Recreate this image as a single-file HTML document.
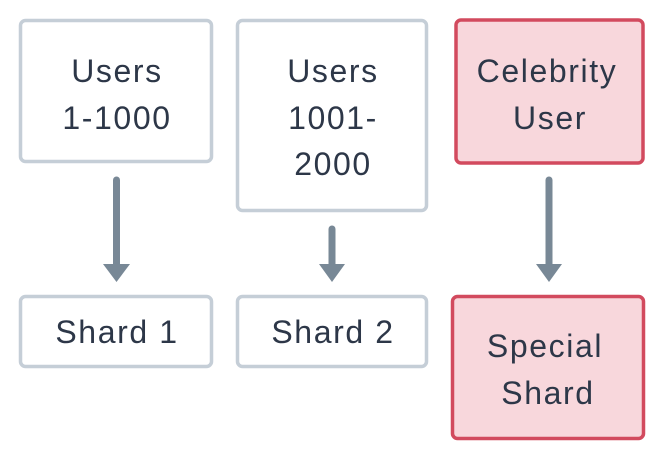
<!DOCTYPE html>
<html><head><meta charset="utf-8"><style>
html,body{margin:0;padding:0;background:#fff;width:664px;height:460px;overflow:hidden}
svg text{font-family:"Liberation Sans",sans-serif;font-size:32px;letter-spacing:1.6px;fill:#2d3748;text-anchor:middle}
</style></head><body>
<svg width="664" height="460" viewBox="0 0 664 460">
<g stroke-width="3.5">
<rect x="20.5" y="20.5" width="191" height="141" rx="5" fill="#fff" stroke="#c5ced7"/>
<rect x="237.5" y="20.5" width="189" height="190" rx="5" fill="#fff" stroke="#c5ced7"/>
<rect x="456" y="20" width="187" height="143" rx="5" fill="#f8d7dc" stroke="#d24a5e"/>
<rect x="20.5" y="296.5" width="191" height="70" rx="5" fill="#fff" stroke="#c5ced7"/>
<rect x="237.5" y="296.5" width="189" height="70" rx="5" fill="#fff" stroke="#c5ced7"/>
<rect x="452.5" y="296.5" width="191" height="142" rx="5" fill="#f8d7dc" stroke="#d24a5e"/>
</g>
<g stroke="#788896" stroke-width="7" stroke-linecap="round">
<line x1="116.5" y1="180" x2="116.5" y2="266"/>
<line x1="332" y1="229" x2="332" y2="266"/>
<line x1="549" y1="180" x2="549" y2="266"/>
</g>
<g fill="#788896">
<polygon points="103,264 130,264 116.5,282"/>
<polygon points="319,264 345,264 332,282"/>
<polygon points="536,264 562,264 549,282"/>
</g>
<text x="117" y="82">Users</text>
<text x="117" y="129">1-1000</text>
<text x="333" y="82">Users</text>
<text x="333" y="129">1001-</text>
<text x="333" y="175">2000</text>
<text x="547" y="82">Celebrity</text>
<text x="550" y="129">User</text>
<text x="117" y="343">Shard 1</text>
<text x="333" y="343">Shard 2</text>
<text x="545" y="357">Special</text>
<text x="548" y="404">Shard</text>
</svg>
</body></html>
